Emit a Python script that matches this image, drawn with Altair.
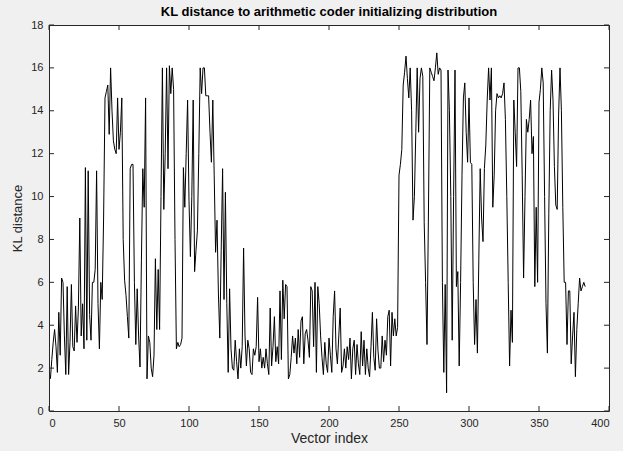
import altair as alt
import pandas as pd

kl_values = [
    1.5, 2.4, 3.2, 3.8, 3.0, 1.8, 4.6, 2.6, 6.2, 6.0,
    3.5, 1.7, 5.8, 1.7, 3.2, 5.9, 3.0, 2.8, 4.9, 3.2,
    4.8, 9.0, 3.5, 5.0, 2.9, 11.35, 3.3, 11.2, 4.5, 3.3,
    6.0, 6.0, 6.6, 11.2, 5.0, 2.9, 6.0, 5.2, 9.0, 14.6,
    14.9, 15.2, 12.9, 16.0, 14.0, 12.6, 12.2, 12.0, 14.6, 12.2,
    13.0, 14.6, 8.0, 6.1, 5.4, 4.4, 3.4, 11.3, 11.5, 11.5,
    6.0, 3.1, 5.7, 3.5, 2.05, 7.0, 11.3, 9.5, 14.6, 1.5,
    3.5, 3.2, 2.0, 1.6, 2.6, 7.1, 3.8, 6.6, 3.8, 10.0,
    16.0, 9.4, 12.0, 16.0, 11.3, 16.1, 14.8, 16.0, 15.0, 8.0,
    2.9, 3.2, 3.0, 3.1, 3.4, 11.35, 9.5, 12.0, 14.5, 9.8,
    7.2, 10.0, 14.5, 6.5, 7.5, 8.4, 12.0, 16.0, 14.8, 16.0,
    16.0, 14.7, 14.7, 14.7, 13.0, 11.6, 14.5, 11.0, 7.4, 8.9,
    5.5, 3.4, 7.5, 11.3, 5.2, 10.2, 5.0, 1.8, 5.7, 2.9,
    2.0, 1.9, 3.3, 2.3, 1.5, 2.9, 2.0, 3.0, 7.6, 3.5,
    2.1, 3.3, 2.9, 1.8, 1.7, 2.9, 2.6, 3.0, 5.3, 2.3,
    2.9, 2.0, 2.5, 2.0, 2.9, 2.2, 1.7, 4.8, 2.1, 3.0,
    4.4, 2.3, 3.0, 2.2, 5.6, 2.4, 6.1, 4.3, 5.9, 5.8,
    1.5, 1.7, 2.5, 3.5, 2.7, 3.4, 2.2, 3.8, 2.5, 4.2,
    4.4, 2.2, 3.6, 3.8, 3.3, 2.5, 5.8, 5.6, 3.0, 6.0,
    1.8, 5.8, 5.0, 3.5, 2.5, 1.7, 3.2, 2.2, 1.8, 3.4,
    2.6, 1.8, 4.4, 5.6, 2.9, 2.2, 3.5, 4.8, 1.8, 2.1,
    2.9, 2.0, 3.0, 2.4, 3.4, 1.5, 2.9, 3.3, 1.7, 3.1,
    2.2, 1.7, 3.7, 2.1, 3.3, 1.7, 2.9, 2.0, 1.6, 3.0,
    4.6, 2.5, 1.9, 4.3, 2.8, 2.0, 2.0, 3.5, 2.3, 3.3,
    2.6, 4.4, 4.7, 2.1, 4.6, 3.5, 4.3, 3.5, 3.9, 11.0,
    11.5, 12.2, 15.2, 15.8, 16.55, 15.5, 14.6, 16.0, 14.0, 8.9,
    10.0, 13.0, 16.0, 13.0, 15.5, 16.0, 15.6, 8.8, 6.0, 3.1,
    9.0, 16.0, 15.8, 15.6, 15.4, 16.0, 16.7, 15.7, 16.0, 15.9,
    6.0, 1.8, 5.9, 0.85, 15.9, 14.0, 10.0, 3.3, 10.0, 15.9,
    5.8, 6.5, 2.1, 6.0, 11.0, 14.6, 15.3, 13.0, 11.6, 14.6,
    11.6, 11.5, 6.0, 3.1, 5.2, 2.7, 7.0, 11.3, 9.0, 7.9,
    11.3, 12.4, 14.5, 16.0, 14.5, 16.0, 9.5, 11.0, 14.0, 14.8,
    14.6, 14.7, 14.6, 14.8, 15.3, 13.6, 10.0, 6.0, 2.1, 4.7,
    3.2, 14.5, 13.0, 11.4, 16.0, 16.0, 14.9, 11.0, 6.2, 10.0,
    13.6, 13.0, 13.6, 14.5, 12.0, 12.8, 5.8, 9.5, 6.0, 14.4,
    15.0, 16.0, 15.3, 10.0, 5.0, 2.7, 9.2, 14.0, 15.9, 14.5,
    11.4, 9.6, 9.4, 13.8, 16.0, 14.0, 9.5, 6.0, 6.0, 3.1,
    5.6, 5.6, 2.2, 3.5, 4.6, 1.6, 3.8, 5.0, 6.2, 5.6,
    5.8, 6.0, 5.8,
]
x_ticks = [0, 50, 100, 150, 200, 250, 300, 350, 400]
y_ticks = [0, 2, 4, 6, 8, 10, 12, 14, 16, 18]

W, H = 560, 386
FONT = "Liberation Sans"
TXT = "#262626"

df = pd.DataFrame({"idx": list(range(1, len(kl_values) + 1)), "kl": kl_values})
xs = alt.Scale(domain=[0, 400], nice=False, zero=False)
ys = alt.Scale(domain=[0, 18], nice=False, zero=False)

line = alt.Chart(df).mark_line(color="black", strokeWidth=1).encode(
    x=alt.X("idx:Q", scale=xs, axis=alt.Axis(
        values=x_ticks, title="Vector index", grid=False, domain=False, ticks=False,
        labelFont=FONT, labelFontSize=11, labelColor=TXT, labelPadding=6,
        titleFont=FONT, titleFontSize=14, titleFontWeight="normal", titleColor=TXT, titlePadding=3)),
    y=alt.Y("kl:Q", scale=ys, axis=alt.Axis(
        values=y_ticks, title="KL distance", grid=False, domain=False, ticks=False,
        labelFont=FONT, labelFontSize=11, labelColor=TXT, labelPadding=6,
        titleFont=FONT, titleFontSize=13, titleFontWeight="normal", titleColor=TXT, titlePadding=6)),
)

xt = pd.DataFrame({"t": x_ticks})
yt = pd.DataFrame({"t": y_ticks})
tick_len = 5
xb = alt.Chart(xt).mark_rule(color=TXT, strokeWidth=1).encode(
    x=alt.X("t:Q", scale=xs), y=alt.value(H), y2=alt.value(H - tick_len))
xtop = alt.Chart(xt).mark_rule(color=TXT, strokeWidth=1).encode(
    x=alt.X("t:Q", scale=xs), y=alt.value(0), y2=alt.value(tick_len))
yl = alt.Chart(yt).mark_rule(color=TXT, strokeWidth=1).encode(
    y=alt.Y("t:Q", scale=ys), x=alt.value(0), x2=alt.value(tick_len))
yr = alt.Chart(yt).mark_rule(color=TXT, strokeWidth=1).encode(
    y=alt.Y("t:Q", scale=ys), x=alt.value(W), x2=alt.value(W - tick_len))

chart = alt.layer(line, xb, xtop, yl, yr).properties(
    width=W, height=H,
    title=alt.TitleParams("KL distance to arithmetic coder initializing distribution",
                          font=FONT, fontSize=13, fontWeight="bold", color="black",
                          anchor="middle", offset=0),
    background="#f0f0f0",
    padding={"left": 49, "top": 25, "right": 14, "bottom": 40},
    autosize=alt.AutoSizeParams(type="none"),
).configure_view(fill="white", stroke=TXT, strokeWidth=1)

chart.save("out.html", embed_options={"renderer": "svg", "actions": False})
